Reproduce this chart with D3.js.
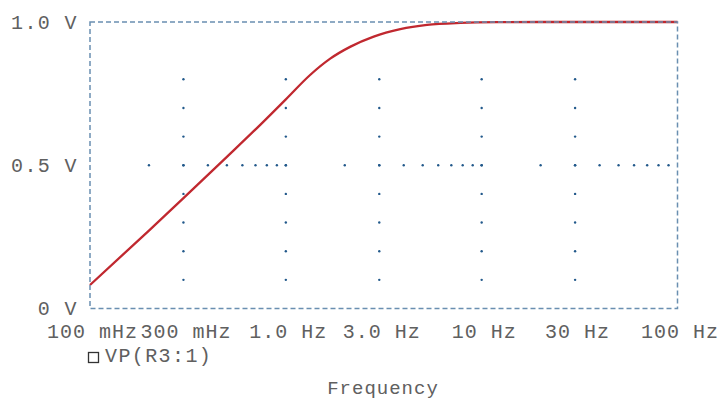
<!DOCTYPE html>
<html>
<head>
<meta charset="utf-8">
<script src="https://cdn.jsdelivr.net/npm/d3@7"></script>
<style>
  html, body { margin: 0; padding: 0; background: #fff; }
  svg { display: block; }
  text { font-family: "Liberation Mono", "Courier New", monospace; fill: #606060; }
</style>
</head>
<body>
<svg id="chart" width="720" height="402"></svg>
<script>
// ---- data ----
const freqs = [0.1, 0.2, 0.3, 0.5, 0.74, 1.0, 1.33, 1.685, 2.14, 2.81, 3.84, 5.26, 7.8, 12, 20, 50, 100];
const volts = [0.082, 0.272, 0.385, 0.529, 0.641, 0.73, 0.815, 0.872, 0.914, 0.949, 0.975, 0.99, 0.997, 0.9995, 1.0, 1.0, 1.0];
const xTickValues = [0.1, 0.3, 1, 3, 10, 30, 100];
const xTickLabels = ["100 mHz", "300 mHz", "1.0 Hz", "3.0 Hz", "10 Hz", "30 Hz", "100 Hz"];
const yTickValues = [0, 0.5, 1.0];
const yTickLabels = ["0 V", "0.5 V", "1.0 V"];
const gridFreqs = [0.3, 1, 3, 10, 30];
const gridVolts = [0.1, 0.2, 0.3, 0.4, 0.5, 0.6, 0.7, 0.8];
const minorFreqs = [0.2,0.3,0.4,0.5,0.6,0.7,0.8,0.9,1,2,3,4,5,6,7,8,9,10,20,30,40,50,60,70,80,90];
const seriesName = "VP(R3:1)";
const xTitle = "Frequency";

// ---- layout ----
const svg = d3.select("#chart");
const L = 90, R = 677.5, T = 22, B = 308.5;
const x = d3.scaleLog().domain([0.1, 100]).range([L, R]);
const y = d3.scaleLinear().domain([0, 1]).range([B, T]);
const dotColor = "#22598b";
const fontSize = "20px";
const textColor = "#606060";

// grid dots: vertical
const g = svg.append("g");
gridFreqs.forEach(f => {
  g.selectAll(null).data(gridVolts).enter().append("circle")
    .attr("cx", x(f)).attr("cy", d => y(d)).attr("r", 1.2).attr("fill", dotColor);
});
// horizontal at 0.5
g.selectAll(null).data(minorFreqs).enter().append("circle")
  .attr("cx", d => x(d)).attr("cy", y(0.5)).attr("r", 1.2).attr("fill", dotColor);

// curve
const pts = freqs.map((f, i) => [f, volts[i]]);
const line = d3.line().x(d => x(d[0])).y(d => y(d[1])).curve(d3.curveMonotoneX);
svg.append("path").datum(pts).attr("d", line)
  .attr("fill", "none").attr("stroke", "#c0282f").attr("stroke-width", 2.3)
  .attr("stroke-linejoin", "round");

// frame
svg.append("rect").attr("x", L).attr("y", T).attr("width", R - L).attr("height", B - T)
  .attr("fill", "none").attr("stroke", "#6a8fb1").attr("stroke-width", 1.5)
  .attr("stroke-dasharray", "5,3");

// x axis
const xAxis = d3.axisBottom(x).tickValues(xTickValues)
  .tickFormat((d, i) => xTickLabels[i]).tickSize(0);
const gx = svg.append("g").attr("transform", `translate(0,${B})`).call(xAxis);
gx.select(".domain").remove();
gx.selectAll("text").attr("y", 29).attr("dy", 0).attr("dx", 2)
  .style("font-size", fontSize).style("letter-spacing", "1px")
  .style("font-family", "'Liberation Mono', monospace").attr("fill", textColor);

// y axis
const yAxis = d3.axisLeft(y).tickValues(yTickValues)
  .tickFormat((d, i) => yTickLabels[i]).tickSize(0).tickPadding(12);
const gy = svg.append("g").attr("transform", `translate(${L},0)`).call(yAxis);
gy.select(".domain").remove();
gy.selectAll("text").attr("dy", "0.3em")
  .style("font-size", fontSize).style("letter-spacing", "1.4px")
  .style("font-family", "'Liberation Mono', monospace").attr("fill", textColor);

// legend
svg.append("rect").attr("x", 88.5).attr("y", 352.5).attr("width", 10).attr("height", 10)
  .attr("fill", "none").attr("stroke", "#333").attr("stroke-width", 1.3);
svg.append("text").attr("x", 105).attr("y", 362).style("font-size", fontSize)
  .style("letter-spacing", "1.4px").text(seriesName);

// x title
svg.append("text").attr("x", 383).attr("y", 394).attr("text-anchor", "middle")
  .style("font-size", "19px").style("letter-spacing", "1px").text(xTitle);
</script>
</body>
</html>
